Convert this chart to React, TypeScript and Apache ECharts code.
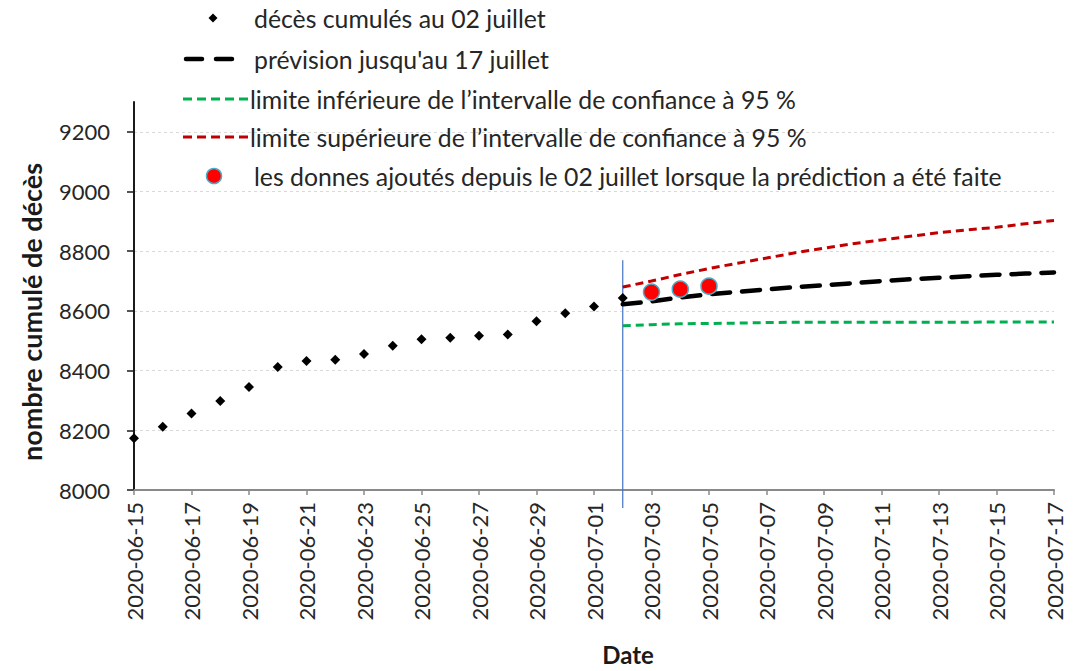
import React, { useEffect, useRef } from "react";
import * as echarts from "echarts";

const dates = [
  "2020-06-15", "2020-06-16", "2020-06-17", "2020-06-18", "2020-06-19", "2020-06-20",
  "2020-06-21", "2020-06-22", "2020-06-23", "2020-06-24", "2020-06-25", "2020-06-26",
  "2020-06-27", "2020-06-28", "2020-06-29", "2020-06-30", "2020-07-01", "2020-07-02",
  "2020-07-03", "2020-07-04", "2020-07-05", "2020-07-06", "2020-07-07", "2020-07-08",
  "2020-07-09", "2020-07-10", "2020-07-11", "2020-07-12", "2020-07-13", "2020-07-14",
  "2020-07-15", "2020-07-16", "2020-07-17",
];

// observed cumulative deaths 2020-06-15 .. 2020-07-02
const observed = [
  8173, 8212, 8256, 8298, 8345, 8412, 8432, 8436, 8456, 8483, 8505, 8510, 8517, 8521,
  8565, 8592, 8615, 8643,
];

// forecast 2020-07-02 .. 2020-07-17
const forecast = [
  8622, 8632, 8645, 8656, 8664, 8672, 8680, 8686, 8693, 8700, 8706, 8711, 8716, 8721,
  8725, 8729,
];
const lower = [
  8550, 8554, 8557, 8558, 8559, 8561, 8562, 8562, 8562, 8562, 8562, 8562, 8562, 8563,
  8563, 8563,
];
const upper = [
  8680, 8700, 8722, 8742, 8760, 8777, 8795, 8810, 8825, 8838, 8850, 8862, 8872, 8880,
  8892, 8903,
];

// data added since 2 July
const addedDates = ["2020-07-03", "2020-07-04", "2020-07-05"];
const added = [8663, 8673, 8683];

const yTicks = [8000, 8200, 8400, 8600, 8800, 9000, 9200];

const legendLabels = [
  "décès cumulés au 02 juillet",
  "prévision jusqu'au 17 juillet",
  "limite inférieure de l\u2019intervalle de confiance à 95 %",
  "limite supérieure de l\u2019intervalle de confiance à 95 %",
  "les donnes ajoutés depuis le 02 juillet lorsque la prédiction a été faite",
];

const FONT = "Lato, 'Open Sans', sans-serif";

export default function App() {
  const ref = useRef<HTMLDivElement>(null);

  useEffect(() => {
    if (!ref.current) return;
    const chart = echarts.init(ref.current, undefined, { renderer: "svg" });
    const forecastStart = dates.indexOf("2020-07-02");
    const obsData = observed.map((v, i) => [dates[i], v]);
    const fcData = forecast.map((v, i) => [dates[forecastStart + i], v]);
    const loData = lower.map((v, i) => [dates[forecastStart + i], v]);
    const upData = upper.map((v, i) => [dates[forecastStart + i], v]);
    const addData = added.map((v, i) => [addedDates[i], v]);

    chart.setOption({
      animation: false,
      backgroundColor: "#ffffff",
      grid: { left: 134, right: 30, top: 102, bottom: 181 },
      xAxis: {
        type: "category",
        data: dates,
        boundaryGap: false,
        axisLine: { lineStyle: { color: "#8a8a8a", width: 2 } },
        axisTick: { show: true, interval: 1, length: 5, lineStyle: { color: "#8a8a8a", width: 1.5 } },
        axisLabel: {
          interval: 1,
          rotate: 90,
          margin: 12,
          fontFamily: FONT,
          fontSize: 22,
          color: "#262626",
        },
        splitLine: { show: false },
      },
      yAxis: {
        type: "value",
        min: 8000,
        max: 9300,
        interval: 200,
        axisLine: { show: true, lineStyle: { color: "#1a1a1a", width: 2 } },
        axisTick: {
          show: true,
          length: 7,
          customValues: yTicks,
          lineStyle: { color: "#1a1a1a", width: 1.5 },
        },
        axisLabel: {
          customValues: yTicks,
          formatter: (v: number) => String(v),
          margin: 24,
          fontFamily: FONT,
          fontSize: 22,
          color: "#262626",
        },
        splitLine: {
          show: true,
          lineStyle: { color: "#d9d9d9", type: [3, 3], width: 1 },
        },
      },
      series: [
        {
          name: legendLabels[0],
          type: "scatter",
          data: obsData,
          symbol: "diamond",
          symbolSize: 10,
          itemStyle: { color: "#000000", opacity: 1 },
          z: 5,
        },
        {
          name: legendLabels[1],
          type: "line",
          data: fcData,
          showSymbol: false,
          lineStyle: { color: "#000000", width: 4.5, type: [18, 12], cap: "round" },
          z: 4,
        },
        {
          name: legendLabels[2],
          type: "line",
          data: loData,
          showSymbol: false,
          lineStyle: { color: "#00b050", width: 3, type: [8, 5] },
          z: 3,
        },
        {
          name: legendLabels[3],
          type: "line",
          data: upData,
          showSymbol: false,
          lineStyle: { color: "#c00000", width: 3, type: [8, 5] },
          z: 3,
        },
        {
          name: legendLabels[4],
          type: "scatter",
          data: addData,
          symbol: "circle",
          symbolSize: 16,
          itemStyle: { color: "#ff0000", borderColor: "#4bacc6", borderWidth: 1.5, opacity: 1 },
          z: 6,
        },
      ],
    });

    const top = chart.convertToPixel({ xAxisIndex: 0, yAxisIndex: 0 }, ["2020-07-02", 8770]) as number[];
    const bottom = chart.convertToPixel({ xAxisIndex: 0, yAxisIndex: 0 }, ["2020-07-02", 7940]) as number[];

    const rowY = [18, 59, 99, 137, 176];
    const textStyle = (x: number, y: number, text: string) => ({
      type: "text",
      x,
      y,
      style: {
        text,
        fill: "#262626",
        font: `24.8px ${FONT}`,
        textAlign: "left",
        textVerticalAlign: "middle",
      },
      z: 10,
    });

    chart.setOption({
      graphic: [
        {
          type: "line",
          shape: { x1: top[0], y1: top[1], x2: bottom[0], y2: bottom[1] },
          style: { stroke: "#4472c4", lineWidth: 1.2 },
          z: 2,
        },
        // legend symbols
        {
          type: "polygon",
          shape: { points: [[213, rowY[0] - 4.5], [217.5, rowY[0]], [213, rowY[0] + 4.5], [208.5, rowY[0]]] },
          style: { fill: "#000000" },
        },
        {
          type: "line",
          shape: { x1: 186, y1: rowY[1], x2: 234, y2: rowY[1] },
          style: { stroke: "#000000", lineWidth: 4.5, lineDash: [16, 14], lineCap: "round" },
        },
        {
          type: "line",
          shape: { x1: 183, y1: rowY[2], x2: 248, y2: rowY[2] },
          style: { stroke: "#00b050", lineWidth: 3, lineDash: [9, 5] },
        },
        {
          type: "line",
          shape: { x1: 183, y1: rowY[3], x2: 248, y2: rowY[3] },
          style: { stroke: "#c00000", lineWidth: 3, lineDash: [9, 5] },
        },
        {
          type: "circle",
          shape: { cx: 214, cy: rowY[4], r: 7.5 },
          style: { fill: "#ff0000", stroke: "#4bacc6", lineWidth: 1.5 },
        },
        textStyle(254, rowY[0], legendLabels[0]),
        textStyle(254, rowY[1], legendLabels[1]),
        textStyle(250, rowY[2], legendLabels[2]),
        textStyle(250, rowY[3], legendLabels[3]),
        textStyle(254, rowY[4], legendLabels[4]),
        // axis titles
        {
          type: "text",
          x: 31,
          y: 312,
          rotation: Math.PI / 2,
          style: {
            text: "nombre cumulé de décès",
            fill: "#1a1a1a",
            font: `bold 27px ${FONT}`,
            textAlign: "center",
            textVerticalAlign: "middle",
          },
        },
        {
          type: "text",
          x: 628,
          y: 654,
          style: {
            text: "Date",
            fill: "#1a1a1a",
            font: `bold 24px ${FONT}`,
            textAlign: "center",
            textVerticalAlign: "middle",
          },
        },
      ],
    });

    return () => chart.dispose();
  }, []);

  return (
    <div
      ref={ref}
      style={{ width: 1084, height: 671, position: "absolute", left: 0, top: 0 }}
    />
  );
}
